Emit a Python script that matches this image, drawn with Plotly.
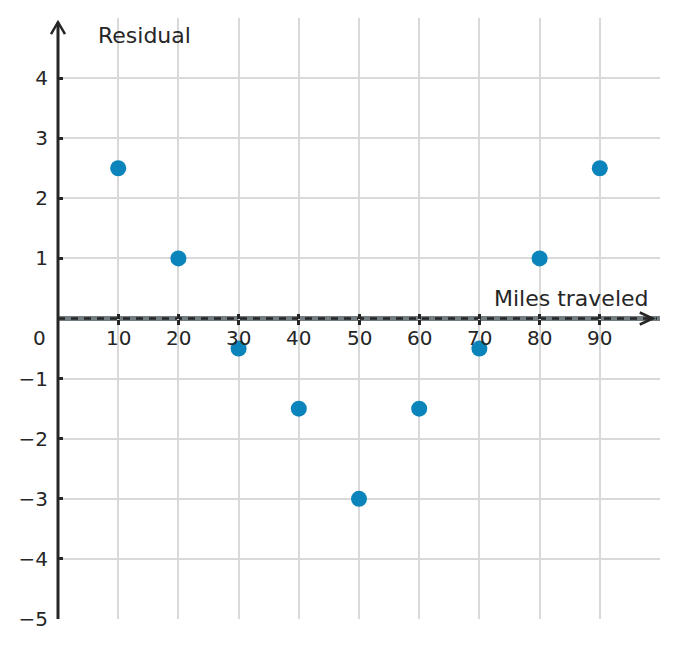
import plotly.graph_objects as go

# data
miles = [10, 20, 30, 40, 50, 60, 70, 80, 90]
residuals = [2.5, 1, -0.5, -1.5, -3, -1.5, -0.5, 1, 2.5]

x_ticks = [10, 20, 30, 40, 50, 60, 70, 80, 90]
y_ticks = [-5, -4, -3, -2, -1, 1, 2, 3, 4]
y_labels = ["−5", "−4", "−3", "−2", "−1", "1", "2", "3", "4"]

FONT = "DejaVu Sans"
INK = "#262626"
GRID = "#d9d9d9"
DOT = "#0a84ba"

fig = go.Figure()

fig.add_trace(
    go.Scatter(
        x=miles,
        y=residuals,
        mode="markers",
        marker=dict(size=16, color=DOT, line=dict(width=0)),
        hoverinfo="skip",
        showlegend=False,
    )
)
# invisible trace so the second x axis (upper half of the crossing ticks) is drawn
fig.add_trace(
    go.Scatter(
        x=x_ticks,
        y=[0] * len(x_ticks),
        xaxis="x2",
        mode="markers",
        marker=dict(size=1, opacity=0),
        hoverinfo="skip",
        showlegend=False,
    )
)

shapes = [
    # x axis: grey band with black dashes on top
    dict(type="line", x0=0, x1=100, y0=0, y1=0, layer="below",
         line=dict(color="#737d82", width=5)),
    dict(type="line", x0=0, x1=99.5, y0=0, y1=0, layer="below",
         line=dict(color=INK, width=2.5, dash="7px,6px")),
    # x arrow head
    dict(type="path", xref="x", yref="y", xsizemode="pixel", ysizemode="pixel",
         xanchor=98.8, yanchor=0, path="M -13,-6 L 0,0 L -13,6",
         line=dict(color=INK, width=2.5)),
    # y axis with arrow (paper refs so it is not clipped)
    dict(type="line", xref="paper", yref="paper", x0=0, x1=0, y0=0, y1=0.993,
         line=dict(color=INK, width=3)),
    dict(type="path", xref="paper", yref="paper", xsizemode="pixel", ysizemode="pixel",
         xanchor=0, yanchor=0.993, path="M -7,-12 L 0,0 L 7,-12",
         line=dict(color=INK, width=2.5)),
]

annotations = [
    dict(text="Residual", x=0, y=5, xref="x", yref="y", xanchor="left", yanchor="middle",
         xshift=38, yshift=-17, showarrow=False, font=dict(family=FONT, size=22, color=INK)),
    dict(text="Miles traveled", x=100, y=0, xref="x", yref="y", xanchor="right",
         yanchor="middle", xshift=-9, yshift=20, showarrow=False,
         font=dict(family=FONT, size=22, color=INK)),
    dict(text="0", x=0, y=0, xref="paper", yref="y", xanchor="right", yanchor="middle",
         xshift=-10, yshift=-19, showarrow=False, font=dict(family=FONT, size=20, color=INK)),
]
for t in x_ticks:
    annotations.append(
        dict(text=str(t), x=t, y=0, xref="x", yref="y", xanchor="center", yanchor="middle",
             yshift=-19, showarrow=False, font=dict(family=FONT, size=20, color=INK))
    )

# both x axes sit on y = 0 (middle of the plot); their ticks together cross the line
tick_style = dict(
    tickvals=x_ticks,
    showticklabels=False,
    ticks="outside",
    ticklen=5,
    tickwidth=2.5,
    tickcolor=INK,
    anchor="free",
    position=0.5,
    zeroline=False,
    showline=False,
    fixedrange=True,
)
fig.update_layout(
    xaxis=dict(range=[0, 100], showgrid=True, gridcolor=GRID, gridwidth=2, **tick_style),
    xaxis2=dict(range=[0, 100], overlaying="x", side="top", showgrid=False, **tick_style),
)
fig.update_yaxes(
    range=[-5, 5],
    tickvals=y_ticks,
    ticktext=y_labels,
    ticks="inside",
    ticklen=5,
    tickwidth=2.5,
    tickcolor=INK,
    ticklabelstandoff=9,
    tickfont=dict(family=FONT, size=20, color=INK),
    showgrid=True,
    gridcolor=GRID,
    gridwidth=2,
    zeroline=False,
    showline=False,
    fixedrange=True,
)
# the page puts the figure 8px in from the top-left corner
fig.update_layout(
    width=670,
    height=640,
    margin=dict(l=50, r=18, t=10, b=29),
    plot_bgcolor="white",
    paper_bgcolor="white",
    shapes=shapes,
    annotations=annotations,
    showlegend=False,
)

fig.write_html("out.html")
